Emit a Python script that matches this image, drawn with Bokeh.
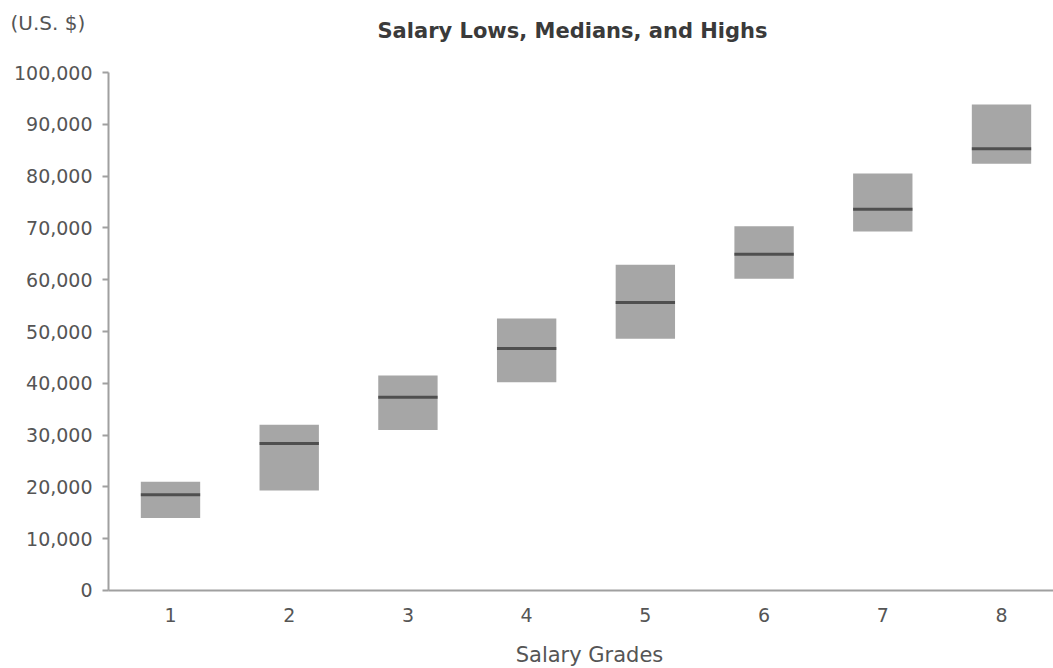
from bokeh.plotting import figure
from bokeh.models import Range1d, Label, FixedTicker, NumeralTickFormatter
from bokeh.embed import file_html
from bokeh.resources import INLINE

grades = [1, 2, 3, 4, 5, 6, 7, 8]
lows = [14000, 19300, 31000, 40200, 48600, 60200, 69300, 82400]
medians = [18500, 28400, 37300, 46700, 55600, 64900, 73600, 85300]
highs = [21000, 32000, 41500, 52500, 62900, 70300, 80500, 93800]
y_ticks = [0, 10000, 20000, 30000, 40000, 50000, 60000, 70000, 80000, 90000, 100000]

FONT = "DejaVu Sans"
BOX_W = 0.5
X_AXIS_START = 0.478
X_AXIS_END = 8.438

p = figure(width=1053, height=668, output_backend="svg", toolbar_location=None,
           x_range=Range1d(-0.432, X_AXIS_END), y_range=Range1d(-15058, 113900),
           min_border=0)
p.outline_line_color = None
p.xgrid.grid_line_color = None
p.ygrid.grid_line_color = None
p.background_fill_color = "white"
p.border_fill_color = "white"

p.vbar(x=grades, bottom=lows, top=highs, width=BOX_W, fill_color="#a6a6a6", line_color=None)
p.segment(x0=[g - BOX_W / 2 for g in grades], x1=[g + BOX_W / 2 for g in grades],
          y0=medians, y1=medians, line_color="#4f4f4f", line_width=3)

# y axis
p.yaxis.fixed_location = X_AXIS_START
p.yaxis.bounds = (0, 100000)
p.yaxis.ticker = FixedTicker(ticks=y_ticks)
p.yaxis.formatter = NumeralTickFormatter(format="0,0")
p.yaxis.axis_line_color = "#a0a0a0"
p.yaxis.axis_line_width = 2
p.yaxis.major_tick_line_color = "#a0a0a0"
p.yaxis.major_tick_line_width = 2
p.yaxis.major_tick_out = 6
p.yaxis.major_tick_in = 0
p.yaxis.minor_tick_line_color = None
p.yaxis.major_label_text_font = FONT
p.yaxis.major_label_text_font_size = "19px"
p.yaxis.major_label_text_color = "#555555"
p.yaxis.major_label_standoff = 10

# x axis
p.xaxis.fixed_location = 0
p.xaxis.bounds = (X_AXIS_START, X_AXIS_END)
p.xaxis.ticker = FixedTicker(ticks=grades)
p.xaxis.axis_line_color = "#a0a0a0"
p.xaxis.axis_line_width = 2
p.xaxis.major_tick_line_color = None
p.xaxis.minor_tick_line_color = None
p.xaxis.major_tick_out = 0
p.xaxis.major_tick_in = 0
p.xaxis.major_label_text_font = FONT
p.xaxis.major_label_text_font_size = "19px"
p.xaxis.major_label_text_color = "#555555"
p.xaxis.major_label_standoff = 18

p.add_layout(Label(x=589, y=14, x_units="screen", y_units="screen",
                   text="Salary Grades", text_font=FONT, text_font_size="21px",
                   text_color="#555555", text_align="center", text_baseline="middle"))
p.add_layout(Label(x=572, y=638, x_units="screen", y_units="screen",
                   text="Salary Lows, Medians, and Highs", text_font=FONT,
                   text_font_size="21px", text_font_style="bold", text_color="#3a3a3a",
                   text_align="center", text_baseline="middle"))
p.add_layout(Label(x=10, y=646, x_units="screen", y_units="screen",
                   text="(U.S. $)", text_font=FONT, text_font_size="20px",
                   text_color="#555555", text_align="left", text_baseline="middle"))

open("out.html", "w").write(file_html(p, INLINE))
